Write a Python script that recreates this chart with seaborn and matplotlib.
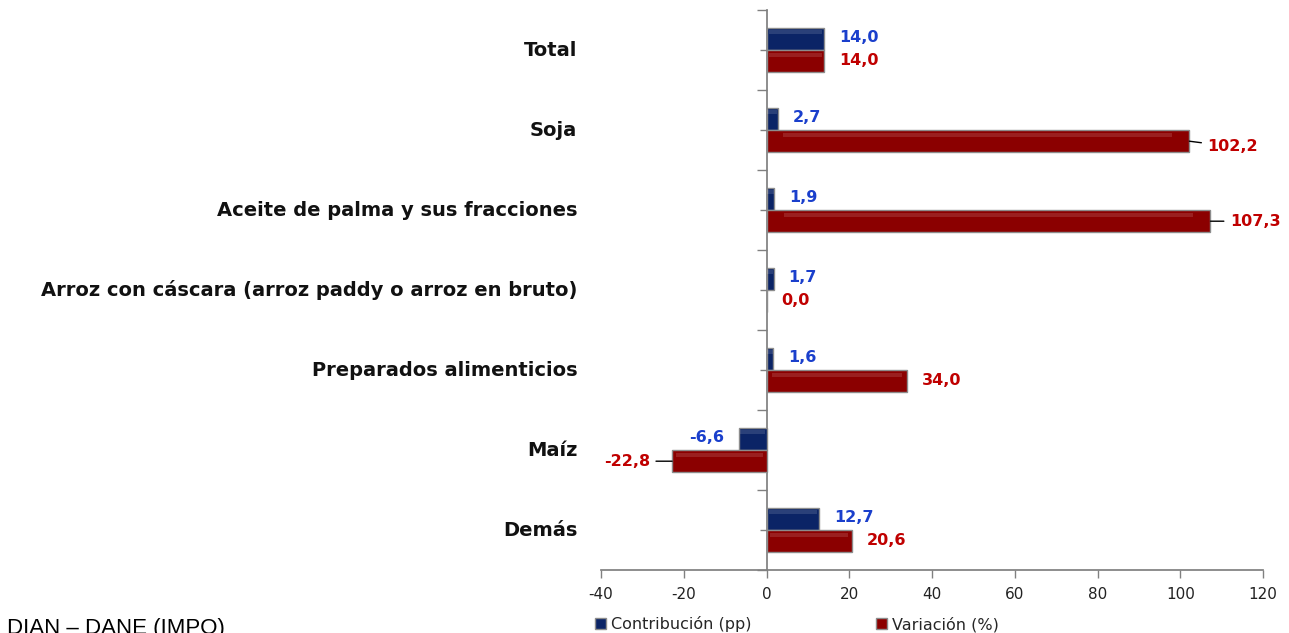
import matplotlib
matplotlib.use("Agg")
import matplotlib.pyplot as plt
from matplotlib.patches import Rectangle
import seaborn as sns
import pandas as pd
import numpy as np

categories = ["Total", "Soja", "Aceite de palma y sus fracciones",
              "Arroz con cáscara (arroz paddy o arroz en bruto)",
              "Preparados alimenticios", "Maíz", "Demás"]
contribucion = [14.0, 2.7, 1.9, 1.7, 1.6, -6.6, 12.7]
variacion = [14.0, 102.2, 107.3, 0.0, 34.0, -22.8, 20.6]
series_names = ["Contribución (pp)", "Variación (%)"]
x_ticks = [-40, -20, 0, 20, 40, 60, 80, 100, 120]

sns.set_theme(style="white")
plt.rcParams["font.family"] = ["DejaVu Sans"]

df = pd.DataFrame({
    "cat": categories * 2,
    "val": contribucion + variacion,
    "serie": [series_names[0]] * len(categories) + [series_names[1]] * len(categories),
})

bar_colors = {series_names[0]: "#0B2466", series_names[1]: "#8B0000"}
text_colors = {series_names[0]: "#1A3FCC", series_names[1]: "#C00000"}

fig = plt.figure(figsize=(12.89, 6.33), dpi=100)
ax = fig.add_axes([601 / 1289, 1 - 570 / 633, 662 / 1289, 560 / 633])

sns.barplot(data=df, y="cat", x="val", hue="serie", orient="h", order=categories,
            hue_order=series_names, palette=bar_colors, width=0.56, errorbar=None,
            edgecolor="#8C8C8C", linewidth=1.0, ax=ax, saturation=1)

# subtle glossy highlight inside each bar (derived from the drawn bars)
for p in list(ax.patches):
    w = p.get_width()
    if abs(w) < 1e-9:
        continue
    x0, y0, h = p.get_x(), p.get_y(), p.get_height()
    inset = 0.04 * w
    ax.add_patch(Rectangle((x0 + inset, y0 + 0.12 * h), w - 2 * inset, 0.18 * h,
                           facecolor="white", alpha=0.13, edgecolor="none", zorder=p.get_zorder() + 0.1))

ax.set_xlim(-40, 120)
ax.set_ylim(len(categories) - 0.5, -0.5)
ax.set_xticks(x_ticks)
ax.set_xticklabels([str(t) for t in x_ticks], fontsize=11, color="#222222")
ax.set_xlabel("")
ax.set_ylabel("")

# y-axis at zero
for s in ["top", "right"]:
    ax.spines[s].set_visible(False)
ax.spines["left"].set_position(("data", 0))
ax.spines["left"].set_color("#808080")
ax.spines["bottom"].set_color("#808080")
ax.spines["left"].set_zorder(0.5)
ax.set_yticks(np.arange(-0.5, len(categories), 1.0))
ax.set_yticklabels([])
ax.set_yticks(np.arange(len(categories)), minor=True)
ax.tick_params(axis="y", which="major", direction="out", length=7, color="#808080", width=1, left=True)
ax.tick_params(axis="y", which="minor", direction="out", length=5, color="#808080", width=1, left=True)
ax.tick_params(axis="x", direction="out", length=6, color="#808080", width=1, pad=6, bottom=True)

# category labels
for i, c in enumerate(categories):
    ax.text(-0.036, i, c, transform=ax.get_yaxis_transform(), ha="right", va="center",
            fontsize=14, fontweight="bold", color="#111111")

# data labels
leader = {(series_names[1], "Soja"): (13, -4), (series_names[1], "Aceite de palma y sus fracciones"): (14, 0),
          (series_names[1], "Maíz"): (-16, 0)}
pt = 72 / 100
for k, name in enumerate(series_names):
    vals = contribucion if k == 0 else variacion
    offset = -0.14 if k == 0 else 0.14
    for i, (c, v) in enumerate(zip(categories, vals)):
        label = f"{v:.1f}".replace(".", ",")
        y = i + offset
        sign = 1 if v >= 0 else -1
        if (name, c) in leader:
            dx, dy = leader[(name, c)]
            ax.annotate(label, xy=(v, y), xytext=(dx, dy), textcoords="offset points",
                        ha="left" if dx > 0 else "right", va="center", fontsize=11.5,
                        fontweight="bold", color=text_colors[name],
                        arrowprops=dict(arrowstyle="-", color="black", lw=1,
                                        shrinkA=2, shrinkB=0))
        else:
            ax.annotate(label, xy=(v, y), xytext=(sign * 15 * pt, 1 * pt), textcoords="offset points",
                        ha="left" if sign > 0 else "right", va="center", fontsize=11.5,
                        fontweight="bold", color=text_colors[name])

# legend
handles, labels = ax.get_legend_handles_labels()
if ax.get_legend() is not None:
    ax.get_legend().remove()
for h in handles:
    h.set_edgecolor("#8C8C8C")
fig.legend(handles, labels, loc="center left", bbox_to_anchor=(595 / 1289, 1 - 624 / 633),
           ncol=2, frameon=False, fontsize=11.5, handlelength=0.7, handleheight=0.7,
           handletextpad=0.3, columnspacing=7.8, borderpad=0, borderaxespad=0)

# source note (partially cut at the left and bottom edges, as in the reference)
fig.text(225 / 1289, 1 - 618 / 633, "DIAN – DANE (IMPO)", ha="right", va="top",
         fontsize=16, family=["Liberation Sans", "DejaVu Sans"], color="#000000")

fig.savefig("out.png", dpi=100)
